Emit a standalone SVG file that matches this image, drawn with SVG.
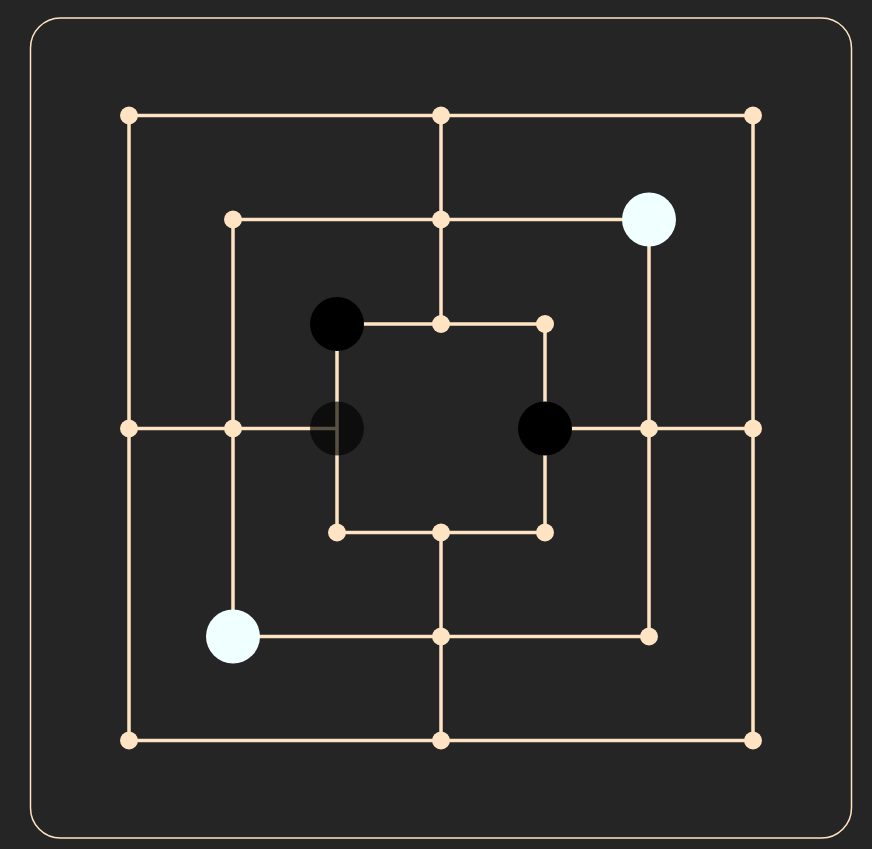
<svg xmlns="http://www.w3.org/2000/svg" width="872" height="849" viewBox="0 0 872 849">
<style>
.ln{stroke:#ffe4c4;stroke-width:3.5;fill:none}
.pt{fill:#ffe4c4}
.w{fill:#f0ffff}
.b{fill:#000000}
.g{fill:#000000;opacity:0.65}
</style>
<rect width="872" height="849" fill="#252525"/>
<rect x="30.5" y="18" width="821" height="820" rx="30" fill="none" stroke="#ffe4c4" stroke-width="1.5"/>
<g id="connectors">
<rect class="ln" x="129" y="115.5" width="624" height="625"/>
<rect class="ln" x="233" y="219.5" width="416" height="417"/>
<rect class="ln" x="337" y="324" width="208" height="208.5"/>
<line class="ln" x1="441" y1="115.5" x2="441" y2="324"/>
<line class="ln" x1="441" y1="532.5" x2="441" y2="740.5"/>
<line class="ln" x1="129" y1="428.5" x2="337" y2="428.5"/>
<line class="ln" x1="545" y1="428.5" x2="753" y2="428.5"/>
</g>
<g id="points">
<g id="p-a7"><circle class="pt" cx="129" cy="115.5" r="9"/></g>
<g id="p-d7"><circle class="pt" cx="441" cy="115.5" r="9"/></g>
<g id="p-g7"><circle class="pt" cx="753" cy="115.5" r="9"/></g>
<g id="p-b6"><circle class="pt" cx="233" cy="219.5" r="9"/></g>
<g id="p-d6"><circle class="pt" cx="441" cy="219.5" r="9"/></g>
<g id="p-f6"><circle class="w" cx="649" cy="219.5" r="27"/></g>
<g id="p-c5"><circle class="b" cx="337" cy="324" r="27"/></g>
<g id="p-d5"><circle class="pt" cx="441" cy="324" r="9"/></g>
<g id="p-e5"><circle class="pt" cx="545" cy="324" r="9"/></g>
<g id="p-a4"><circle class="pt" cx="129" cy="428.5" r="9"/></g>
<g id="p-b4"><circle class="pt" cx="233" cy="428.5" r="9"/></g>
<g id="p-c4"><circle class="g" cx="337" cy="428.5" r="27"/></g>
<g id="p-e4"><circle class="b" cx="545" cy="428.5" r="27"/></g>
<g id="p-f4"><circle class="pt" cx="649" cy="428.5" r="9"/></g>
<g id="p-g4"><circle class="pt" cx="753" cy="428.5" r="9"/></g>
<g id="p-c3"><circle class="pt" cx="337" cy="532.5" r="9"/></g>
<g id="p-d3"><circle class="pt" cx="441" cy="532.5" r="9"/></g>
<g id="p-e3"><circle class="pt" cx="545" cy="532.5" r="9"/></g>
<g id="p-b2"><circle class="w" cx="233" cy="636.5" r="27"/></g>
<g id="p-d2"><circle class="pt" cx="441" cy="636.5" r="9"/></g>
<g id="p-f2"><circle class="pt" cx="649" cy="636.5" r="9"/></g>
<g id="p-a1"><circle class="pt" cx="129" cy="740.5" r="9"/></g>
<g id="p-d1"><circle class="pt" cx="441" cy="740.5" r="9"/></g>
<g id="p-g1"><circle class="pt" cx="753" cy="740.5" r="9"/></g>
</g>
</svg>
